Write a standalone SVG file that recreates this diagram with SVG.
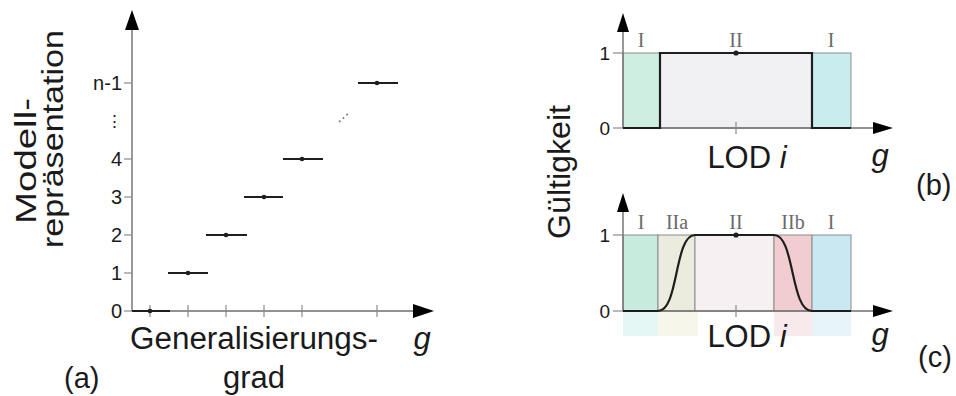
<svg xmlns="http://www.w3.org/2000/svg" width="956" height="396" viewBox="0 0 956 396">
  <style>
    .lbl { font-family: "Liberation Sans", Arial, sans-serif; fill: #1a1a1a; }
    .big { font-size: 31px; }
    .tick { font-size: 20px; }
    .roman { font-family: "Liberation Serif", "Times New Roman", serif; font-size: 20px; fill: #6a6a6a; }
    .axis { stroke: #6e6e6e; stroke-width: 1.4; fill: none; }
    .tk { stroke: #8a8a8a; stroke-width: 1.2; }
    .step { stroke: #1e1e1e; stroke-width: 2.2; fill: none; }
    .dot { fill: #1e1e1e; }
    .band { stroke: #8c8c8c; stroke-width: 1; }
    .head { fill: #000; }
  </style>

  <rect width="956" height="396" fill="#ffffff"/>

  <!-- (a) model representation over generalisation degree -->
  <g id="panel-a">
    <g id="a-axes">
      <line class="axis" x1="132" y1="311" x2="132" y2="28"/>
      <polygon class="head" points="132,10 125,30 139,30"/>
      <line class="axis" x1="132" y1="311" x2="414" y2="311"/>
      <polygon class="head" points="434,311 413,304 413,318"/>
    </g>
    <g id="a-yticks">
      <line class="tk" x1="124" y1="83" x2="132" y2="83"/>
      <line class="tk" x1="124" y1="159" x2="132" y2="159"/>
      <line class="tk" x1="124" y1="197" x2="132" y2="197"/>
      <line class="tk" x1="124" y1="235" x2="132" y2="235"/>
      <line class="tk" x1="124" y1="273" x2="132" y2="273"/>
      <line class="tk" x1="124" y1="311" x2="132" y2="311"/>
      <text class="lbl tick" x="122" y="90" text-anchor="end">n-1</text>
      <text class="lbl" x="114" y="127" text-anchor="middle" font-family="DejaVu Sans, sans-serif" font-size="17" fill="#555">⋮</text>
      <text class="lbl tick" x="122" y="166" text-anchor="end">4</text>
      <text class="lbl tick" x="122" y="204" text-anchor="end">3</text>
      <text class="lbl tick" x="122" y="242" text-anchor="end">2</text>
      <text class="lbl tick" x="122" y="280" text-anchor="end">1</text>
      <text class="lbl tick" x="122" y="318" text-anchor="end">0</text>
    </g>
    <g id="a-xticks">
      <line class="tk" x1="150" y1="305" x2="150" y2="317"/>
      <line class="tk" x1="188" y1="305" x2="188" y2="317"/>
      <line class="tk" x1="226" y1="305" x2="226" y2="317"/>
      <line class="tk" x1="264" y1="305" x2="264" y2="317"/>
      <line class="tk" x1="302" y1="305" x2="302" y2="317"/>
      <line class="tk" x1="377" y1="305" x2="377" y2="317"/>
    </g>
    <g id="a-levels">
      <line class="step" x1="132" y1="311" x2="170" y2="311"/>
      <circle class="dot" cx="150" cy="311" r="2.3"/>
      <line class="step" x1="168" y1="273" x2="208" y2="273"/>
      <circle class="dot" cx="188" cy="273" r="2.3"/>
      <line class="step" x1="206" y1="235" x2="247" y2="235"/>
      <circle class="dot" cx="226" cy="235" r="2.3"/>
      <line class="step" x1="244" y1="197" x2="283" y2="197"/>
      <circle class="dot" cx="264" cy="197" r="2.3"/>
      <line class="step" x1="283" y1="159" x2="323" y2="159"/>
      <circle class="dot" cx="302" cy="159" r="2.3"/>
      <line class="step" x1="358" y1="83" x2="398" y2="83"/>
      <circle class="dot" cx="377" cy="83" r="2.3"/>
      <line x1="339" y1="122" x2="350" y2="112" stroke="#777" stroke-width="1.6" stroke-dasharray="2 3"/>
    </g>
    <g id="a-labels">
      <text class="lbl" font-size="30" transform="translate(36,161) rotate(-90)" text-anchor="middle" textLength="126" lengthAdjust="spacingAndGlyphs">Modell-</text>
      <text class="lbl" font-size="30" transform="translate(63,139) rotate(-90)" text-anchor="middle" textLength="218" lengthAdjust="spacingAndGlyphs">repräsentation</text>
      <text class="lbl big" x="254" y="349" text-anchor="middle" textLength="248" lengthAdjust="spacingAndGlyphs">Generalisierungs-</text>
      <text class="lbl big" x="254" y="388" text-anchor="middle" textLength="62" lengthAdjust="spacingAndGlyphs">grad</text>
      <text class="lbl big" x="422" y="349" text-anchor="middle" font-style="italic">g</text>
      <text class="lbl" x="64" y="388" font-size="29">(a)</text>
    </g>
  </g>

  <!-- shared ordinate label for (b) and (c) -->
  <text id="validity-label" class="lbl big" transform="translate(570,172) rotate(-90)" text-anchor="middle" textLength="134" lengthAdjust="spacingAndGlyphs">Gültigkeit</text>

  <!-- (b) sharp validity interval -->
  <g id="panel-b">
    <g id="b-bands">
      <rect class="band" x="623" y="53" width="37" height="75" fill="#cdeee1"/>
      <rect class="band" x="660" y="53" width="152" height="75" fill="#f0eff1" stroke="#c8c8c8"/>
      <rect class="band" x="812" y="53" width="39" height="75" fill="#c9ecef"/>
    </g>
    <g id="b-axes">
      <line class="axis" x1="623" y1="128" x2="623" y2="30"/>
      <polygon class="head" points="623,13 617,32 629,32"/>
      <line class="axis" x1="623" y1="128" x2="875" y2="128"/>
      <polygon class="head" points="893,128 873,122 873,134"/>
      <line class="tk" x1="613" y1="53" x2="623" y2="53"/>
      <line class="tk" x1="613" y1="128" x2="623" y2="128"/>
      <line class="tk" x1="736" y1="122" x2="736" y2="134"/>
      <text class="lbl" x="610" y="60" text-anchor="end" font-size="19">1</text>
      <text class="lbl" x="610" y="135" text-anchor="end" font-size="19">0</text>
    </g>
    <path class="step" d="M623,128 H660 V53 H812 V128 H851"/>
    <circle class="dot" cx="736" cy="53" r="2.6"/>
    <g id="b-regions">
      <text class="roman" x="641" y="47" text-anchor="middle">I</text>
      <text class="roman" x="736" y="47" text-anchor="middle">II</text>
      <text class="roman" x="831" y="47" text-anchor="middle">I</text>
    </g>
    <text class="lbl big" x="747" y="168" text-anchor="middle">LOD <tspan font-style="italic">i</tspan></text>
    <text class="lbl big" x="880" y="166" text-anchor="middle" font-style="italic">g</text>
    <text class="lbl" x="916" y="195" font-size="29">(b)</text>
  </g>

  <!-- (c) smooth validity interval with transition zones -->
  <g id="panel-c">
    <g id="c-bands">
      <rect x="623" y="311" width="35" height="25" fill="#e4f6f3"/>
      <rect x="658" y="311" width="40" height="25" fill="#f7f6ea"/>
      <rect x="774" y="311" width="38" height="25" fill="#f8eaec"/>
      <rect x="812" y="311" width="39" height="25" fill="#e6f3f7"/>
      <rect class="band" x="623" y="235" width="35" height="76" fill="#c7ebdd"/>
      <rect class="band" x="658" y="235" width="37" height="76" fill="#ebebde"/>
      <rect class="band" x="695" y="235" width="79" height="76" fill="#f6f0f3" stroke="#c8c8c8"/>
      <rect class="band" x="774" y="235" width="38" height="76" fill="#f1cdd0"/>
      <rect class="band" x="812" y="235" width="39" height="76" fill="#c9e8f2"/>
    </g>
    <g id="c-axes">
      <line class="axis" x1="623" y1="311" x2="623" y2="212"/>
      <polygon class="head" points="623,193 617,212 629,212"/>
      <line class="axis" x1="623" y1="311" x2="875" y2="311"/>
      <polygon class="head" points="893,311 873,305 873,317"/>
      <line class="tk" x1="613" y1="235" x2="623" y2="235"/>
      <line class="tk" x1="613" y1="311" x2="623" y2="311"/>
      <line class="tk" x1="736" y1="305" x2="736" y2="317"/>
      <text class="lbl" x="610" y="242" text-anchor="end" font-size="19">1</text>
      <text class="lbl" x="610" y="318" text-anchor="end" font-size="19">0</text>
    </g>
    <path class="step" d="M623,311 H658 C679,311 674,235 695,235 H774 C795,235 790,311 812,311 H851"/>
    <circle class="dot" cx="736" cy="235" r="2.6"/>
    <g id="c-regions">
      <text class="roman" x="641" y="229" text-anchor="middle">I</text>
      <text class="roman" x="677" y="229" text-anchor="middle">IIa</text>
      <text class="roman" x="736" y="229" text-anchor="middle">II</text>
      <text class="roman" x="793" y="229" text-anchor="middle">IIb</text>
      <text class="roman" x="831" y="229" text-anchor="middle">I</text>
    </g>
    <text class="lbl big" x="747" y="347" text-anchor="middle">LOD <tspan font-style="italic">i</tspan></text>
    <text class="lbl big" x="880" y="345" text-anchor="middle" font-style="italic">g</text>
    <text class="lbl" x="918" y="367" font-size="29">(c)</text>
  </g>
</svg>
